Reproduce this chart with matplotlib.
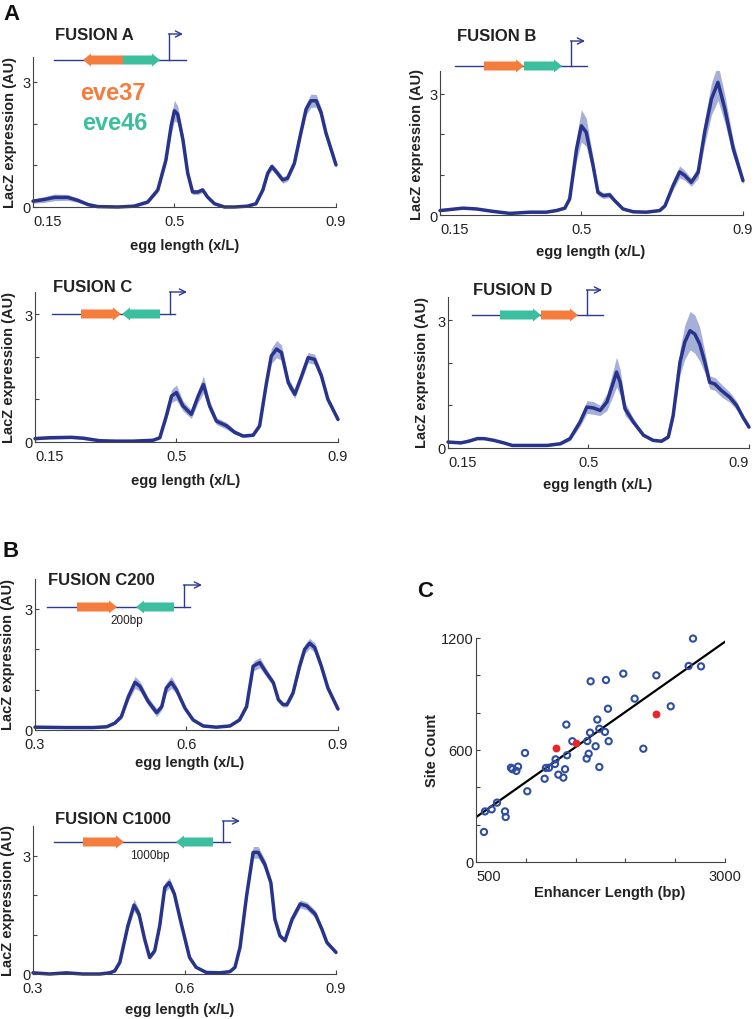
import numpy as np
import matplotlib
matplotlib.use('Agg')
import matplotlib.pyplot as plt
from matplotlib.patches import Polygon

plt.rcParams['font.family'] = ['Liberation Sans', 'DejaVu Sans']

# ---- expression profiles (x = egg length x/L, y = mean LacZ, e = half band) ----
fusA_x = [0.15, 0.178, 0.203, 0.236, 0.261, 0.286, 0.310, 0.36, 0.40, 0.434, 0.459, 0.479, 0.492, 0.5,
          0.508, 0.521, 0.533, 0.545, 0.558, 0.570, 0.582, 0.599, 0.624, 0.648, 0.681, 0.702, 0.719,
          0.731, 0.741, 0.752, 0.768, 0.780, 0.797, 0.813, 0.826, 0.838, 0.851, 0.863, 0.875, 0.888, 0.9]
fusA_y = [0.14, 0.18, 0.23, 0.23, 0.16, 0.06, 0.01, 0.0, 0.02, 0.12, 0.41, 1.13, 1.95, 2.31, 2.23,
          1.62, 0.81, 0.36, 0.36, 0.41, 0.24, 0.08, 0.0, 0.0, 0.02, 0.08, 0.41, 0.81, 0.97, 0.85,
          0.65, 0.69, 1.05, 1.78, 2.35, 2.55, 2.55, 2.27, 1.78, 1.38, 1.01]
fusA_e = [0.05, 0.07, 0.08, 0.07, 0.05, 0.03, 0.03, 0.03, 0.03, 0.04, 0.06, 0.12, 0.2, 0.25, 0.2,
          0.15, 0.08, 0.06, 0.06, 0.06, 0.04, 0.03, 0.02, 0.02, 0.02, 0.03, 0.05, 0.07, 0.08, 0.08,
          0.08, 0.07, 0.08, 0.1, 0.14, 0.16, 0.15, 0.12, 0.1, 0.08, 0.06]

fusB_x = [0.15, 0.207, 0.24, 0.281, 0.323, 0.372, 0.413, 0.438, 0.459, 0.471, 0.488, 0.5, 0.512,
          0.529, 0.541, 0.554, 0.570, 0.582, 0.603, 0.628, 0.661, 0.694, 0.707, 0.727, 0.743, 0.756,
          0.772, 0.789, 0.805, 0.822, 0.838, 0.855, 0.876, 0.9]
fusB_y = [0.11, 0.17, 0.15, 0.09, 0.04, 0.07, 0.07, 0.11, 0.17, 0.40, 1.64, 2.21, 2.05, 1.22, 0.56,
          0.48, 0.50, 0.36, 0.15, 0.08, 0.07, 0.11, 0.23, 0.73, 1.07, 0.98, 0.81, 1.06, 2.05, 2.88,
          3.29, 2.63, 1.64, 0.85]
fusB_e = [0.02, 0.02, 0.02, 0.02, 0.02, 0.02, 0.02, 0.02, 0.03, 0.05, 0.3, 0.4, 0.35, 0.2, 0.08,
          0.07, 0.07, 0.05, 0.03, 0.02, 0.02, 0.02, 0.04, 0.1, 0.15, 0.12, 0.1, 0.15, 0.3, 0.4,
          0.45, 0.35, 0.2, 0.08]

fusC_x = [0.15, 0.186, 0.240, 0.269, 0.310, 0.351, 0.393, 0.442, 0.459, 0.475, 0.488, 0.5, 0.516,
          0.537, 0.554, 0.567, 0.582, 0.599, 0.624, 0.644, 0.665, 0.690, 0.706, 0.723, 0.735, 0.748,
          0.760, 0.777, 0.793, 0.810, 0.826, 0.842, 0.859, 0.875, 0.9]
fusC_y = [0.08, 0.10, 0.11, 0.09, 0.03, 0.02, 0.02, 0.04, 0.10, 0.61, 1.08, 1.16, 0.85, 0.65, 1.08,
          1.35, 0.85, 0.49, 0.38, 0.23, 0.14, 0.16, 0.38, 1.39, 2.02, 2.18, 2.10, 1.39, 1.12, 1.55,
          1.98, 1.94, 1.55, 1.00, 0.53]
fusC_e = [0.03, 0.03, 0.03, 0.03, 0.02, 0.02, 0.02, 0.02, 0.03, 0.1, 0.15, 0.18, 0.12, 0.1, 0.15,
          0.2, 0.12, 0.08, 0.08, 0.05, 0.03, 0.03, 0.05, 0.12, 0.18, 0.2, 0.18, 0.12, 0.1, 0.1,
          0.12, 0.12, 0.1, 0.08, 0.05]

fusD_x = [0.15, 0.182, 0.202, 0.223, 0.240, 0.264, 0.289, 0.310, 0.355, 0.397, 0.430, 0.454, 0.479,
          0.496, 0.512, 0.529, 0.546, 0.562, 0.570, 0.579, 0.591, 0.612, 0.637, 0.661, 0.682, 0.699,
          0.711, 0.728, 0.740, 0.753, 0.765, 0.777, 0.790, 0.802, 0.815, 0.831, 0.852, 0.869, 0.885, 0.9]
fusD_y = [0.14, 0.12, 0.16, 0.22, 0.22, 0.18, 0.12, 0.06, 0.06, 0.06, 0.10, 0.22, 0.61, 0.96, 0.94,
          0.88, 1.08, 1.54, 1.78, 1.54, 0.92, 0.61, 0.30, 0.18, 0.16, 0.26, 0.76, 2.01, 2.48, 2.75,
          2.67, 2.44, 2.01, 1.54, 1.50, 1.35, 1.19, 1.00, 0.72, 0.49]
fusD_e = [0.02, 0.02, 0.02, 0.02, 0.02, 0.02, 0.02, 0.02, 0.02, 0.02, 0.03, 0.05, 0.1, 0.15, 0.15,
          0.12, 0.2, 0.3, 0.35, 0.3, 0.15, 0.08, 0.04, 0.03, 0.03, 0.04, 0.1, 0.3, 0.4, 0.45,
          0.45, 0.4, 0.25, 0.15, 0.15, 0.15, 0.12, 0.1, 0.07, 0.05]

c200_x = [0.3, 0.363, 0.415, 0.442, 0.458, 0.471, 0.485, 0.498, 0.508, 0.524, 0.541, 0.551, 0.560,
          0.570, 0.580, 0.597, 0.613, 0.633, 0.659, 0.686, 0.705, 0.719, 0.732, 0.745, 0.758, 0.772,
          0.782, 0.791, 0.799, 0.811, 0.824, 0.834, 0.844, 0.854, 0.867, 0.880, 0.9]
c200_y = [0.07, 0.06, 0.06, 0.08, 0.17, 0.33, 0.83, 1.18, 1.08, 0.71, 0.43, 0.58, 1.04, 1.18, 1.0,
          0.54, 0.25, 0.10, 0.07, 0.10, 0.25, 0.58, 1.58, 1.67, 1.42, 1.17, 0.75, 0.63, 0.63, 0.92,
          1.58, 2.0, 2.15, 2.04, 1.58, 1.04, 0.52]
c200_e = [0.02, 0.02, 0.02, 0.02, 0.03, 0.05, 0.1, 0.15, 0.12, 0.1, 0.1, 0.08, 0.12, 0.15, 0.1,
          0.06, 0.03, 0.02, 0.02, 0.02, 0.03, 0.06, 0.12, 0.13, 0.1, 0.08, 0.06, 0.06, 0.06, 0.08,
          0.1, 0.12, 0.12, 0.12, 0.1, 0.08, 0.05]

c1000_x = [0.3, 0.333, 0.366, 0.399, 0.432, 0.452, 0.462, 0.472, 0.488, 0.500, 0.510, 0.521, 0.531,
           0.541, 0.551, 0.561, 0.570, 0.580, 0.593, 0.610, 0.623, 0.643, 0.670, 0.690, 0.700, 0.710,
           0.723, 0.736, 0.746, 0.759, 0.771, 0.779, 0.789, 0.799, 0.813, 0.829, 0.842, 0.859, 0.872,
           0.882, 0.9]
c1000_y = [0.03, 0.0, 0.03, 0.0, 0.0, 0.03, 0.08, 0.30, 1.23, 1.75, 1.52, 0.89, 0.42, 0.59, 1.23,
           2.20, 2.32, 2.03, 1.31, 0.42, 0.17, 0.04, 0.03, 0.06, 0.17, 0.68, 1.99, 3.09, 3.09, 2.79,
           2.32, 1.39, 0.97, 0.85, 1.39, 1.78, 1.73, 1.52, 1.14, 0.80, 0.55]
c1000_e = [0.02, 0.02, 0.02, 0.02, 0.02, 0.02, 0.03, 0.05, 0.1, 0.15, 0.12, 0.08, 0.05, 0.06, 0.1,
           0.12, 0.13, 0.1, 0.08, 0.04, 0.02, 0.02, 0.02, 0.02, 0.03, 0.06, 0.1, 0.15, 0.15, 0.12,
           0.1, 0.08, 0.06, 0.06, 0.08, 0.1, 0.1, 0.1, 0.08, 0.06, 0.05]

# ---- panel C: enhancer length vs site count ----
blue_len = [580, 590, 657, 711, 791, 798, 992, 1015, 851, 865, 905, 922, 1189, 1202, 1233, 1293,
            1299, 1327, 1377, 1394, 1414, 1407, 1467, 1611, 1631, 1618, 1645, 1701, 1718, 1738,
            1738, 1795, 1832, 1825, 1651, 1805, 1979, 2093, 2180, 2311, 2455, 2635, 2679, 2759]
blue_sites = [161, 271, 282, 318, 271, 241, 584, 379, 505, 497, 488, 511, 446, 504, 505, 525,
              550, 468, 452, 497, 572, 736, 647, 554, 580, 648, 693, 620, 763, 714,
              509, 697, 647, 821, 968, 975, 1009, 875, 607, 1000, 834, 1050, 1197, 1048]
red_len = [1299, 1507, 2311]
red_sites = [613, 639, 793]
fit_len = [500, 3000]
fit_sites = [240, 1180]

W, H = 755, 1020
fig = plt.figure(figsize=(W / 100, H / 100), dpi=100)

LINE = '#28348c'
BAND = '#9ca7d4'
ORANGE = '#f47c3c'
TEAL = '#3cbf9f'
NAVY = '#2b3990'
FS = 10.5


def box(x0, x1, ytop, ybot):
    return fig.add_axes([x0 / W, 1 - ybot / H, (x1 - x0) / W, (ybot - ytop) / H])


def style(ax):
    for s in ['top', 'right']:
        ax.spines[s].set_visible(False)
    for s in ['left', 'bottom']:
        ax.spines[s].set_linewidth(0.8)
        ax.spines[s].set_color('#444444')
    ax.tick_params(direction='in', length=3, width=0.8, colors='#444444',
                   labelsize=FS, labelcolor='#222222')
    ax.tick_params(axis='x', pad=5)
    ax.tick_params(axis='y', pad=2)


def profile(ax, x, y, e, xlim, xticks, xlabels, ytop):
    x, y, e = np.array(x), np.array(y), np.array(e)
    ax.fill_between(x, y - e, y + e, color=BAND, lw=0, alpha=0.9)
    ax.plot(x, y, color=LINE, lw=2.5, solid_joinstyle='round', solid_capstyle='round', clip_on=False)
    ax.set_xlim(*xlim)
    ax.set_ylim(0, ytop)
    ax.set_xticks(xticks)
    ax.set_xticklabels(xlabels)
    ax.set_yticks([0, 1, 2, 3])
    ax.set_yticklabels(['0', '', '', '3'])
    style(ax)


# panel boxes in pixels: x0, x1, ytop, ybot
panels = [
    (fusA_x, fusA_y, fusA_e, (33, 336, 58, 208), 3.6, 'A'),
    (fusB_x, fusB_y, fusB_e, (440, 743, 72, 216), 3.57, 'A'),
    (fusC_x, fusC_y, fusC_e, (35, 338, 293, 443), 3.52, 'A'),
    (fusD_x, fusD_y, fusD_e, (448, 749, 298, 449), 3.54, 'A'),
    (c200_x, c200_y, c200_e, (35, 338, 580, 731), 3.74, 'B'),
    (c1000_x, c1000_y, c1000_e, (33, 336, 827, 975), 3.76, 'B'),
]

axes = []
for x, y, e, (x0, x1, yt, yb), top, grp in panels:
    ax = box(x0, x1, yt, yb)
    if grp == 'A':
        profile(ax, x, y, e, (0.15, 0.9), [0.15, 0.5, 0.9], ['0.15', '0.5', '0.9'], top)
        ax.get_xticklabels()[0].set_ha('left')
    else:
        profile(ax, x, y, e, (0.3, 0.9), [0.3, 0.6, 0.9], ['0.3', '0.6', '0.9'], top)
    axes.append(ax)
# the right-most label of FUSION D sits at the page edge
axes[3].get_xticklabels()[-1].set_ha('right')

# scatter
sc = box(476, 725, 639, 863)
sc.plot(fit_len, fit_sites, color='black', lw=1.6, zorder=2)
sc.scatter(blue_len, blue_sites, s=20, facecolors='none', edgecolors='#2f4ea3',
           linewidths=1.5, zorder=3, clip_on=False)
sc.scatter(red_len, red_sites, s=32, color='#e8262a', lw=0, zorder=4)
sc.set_xlim(500, 3000)
sc.set_ylim(0, 1200)
sc.set_xticks(range(500, 3001, 500))
sc.set_xticklabels(['500', '', '', '', '', '3000'])
sc.set_yticks(range(0, 1201, 200))
sc.set_yticklabels(['0', '', '', '600', '', '', '1200'])
style(sc)
sc.get_xticklabels()[0].set_ha('left')

# overlay in pixel coordinates for labels and construct drawings
ov = fig.add_axes([0, 0, 1, 1])
ov.set_xlim(0, W)
ov.set_ylim(H, 0)
ov.axis('off')


def arrow(x_tail, x_tip, y, color):
    d = 1 if x_tip > x_tail else -1
    xn = x_tip - d * 8
    pts = [(x_tail, y - 4.5), (xn, y - 4.5), (xn, y - 6.5), (x_tip, y),
           (xn, y + 6.5), (xn, y + 4.5), (x_tail, y + 4.5)]
    ov.add_patch(Polygon(pts, closed=True, fc=color, ec='none', zorder=4))


def construct(xa, xb, y, arrows, prom, spacer=None):
    ov.plot([xa, xb], [y, y], color=NAVY, lw=1, zorder=3)
    for t, h, c in arrows:
        arrow(t, h, y, c)
    px, ptop, pend = prom
    ov.plot([px, px], [y, ptop], color=NAVY, lw=1, zorder=3)
    ov.annotate('', xy=(pend, ptop), xytext=(px - 0.5, ptop),
                arrowprops=dict(arrowstyle='->', color=NAVY, lw=1, shrinkA=0, shrinkB=0,
                                mutation_scale=11))
    if spacer:
        ov.text(spacer[1], spacer[2], spacer[0], fontsize=8.5, ha='center', va='center',
                color='#222222')


construct(54, 186, 61, [(123, 83, ORANGE), (123, 160, TEAL)], (169, 35, 183))
construct(455, 587, 67, [(484, 524, ORANGE), (524, 562, TEAL)], (571, 42, 585))
construct(52, 175, 315, [(81, 121, ORANGE), (160, 122, TEAL)], (170, 293, 187))
construct(472, 603, 316, [(500, 541, TEAL), (541, 578, ORANGE)], (587, 291, 602))
construct(47, 190, 608, [(77, 117, ORANGE), (174, 136, TEAL)], (184, 586, 202), ('200bp', 127, 621))
construct(54, 230, 843, [(83, 124, ORANGE), (213, 176, TEAL)], (223, 822, 240), ('1000bp', 150, 856))

titles = [('FUSION A', 55, 40), ('FUSION B', 457, 41), ('FUSION C', 53, 292),
          ('FUSION D', 473, 295), ('FUSION C200', 48, 585), ('FUSION C1000', 55, 824)]
for t, x, y in titles:
    ov.text(x, y, t, fontsize=12, fontweight='bold', ha='left', va='baseline', color='#222222')

for t, x, y in [('A', 3, 20), ('B', 3, 557), ('C', 417, 597)]:
    ov.text(x, y, t, fontsize=16, fontweight='bold', ha='left', va='baseline', color='#111111')

ov.text(113, 94, 'eve37', fontsize=17, fontweight='bold', color=ORANGE, ha='center', va='center')
ov.text(115, 123, 'eve46', fontsize=17, fontweight='bold', color=TEAL, ha='center', va='center')

ylab = 'LacZ expression (AU)'
for x, y in [(10, 133), (417, 144), (9, 368), (422, 373), (8, 655), (8, 901)]:
    ov.text(x, y, ylab, rotation=90, fontsize=FS, fontweight='bold', ha='center', va='center',
            color='#222222')

xlab = 'egg length (x/L)'
for x, y in [(185, 246), (591, 252), (186, 481), (598, 485), (190, 763), (180, 1010)]:
    ov.text(x, y, xlab, fontsize=FS, fontweight='bold', ha='center', va='center', color='#222222')

ov.text(432, 751, 'Site Count', rotation=90, fontsize=FS, fontweight='bold', ha='center',
        va='center', color='#222222')
ov.text(610, 893, 'Enhancer Length (bp)', fontsize=FS, fontweight='bold', ha='center',
        va='center', color='#222222')

fig.savefig('out.png', dpi=100)
